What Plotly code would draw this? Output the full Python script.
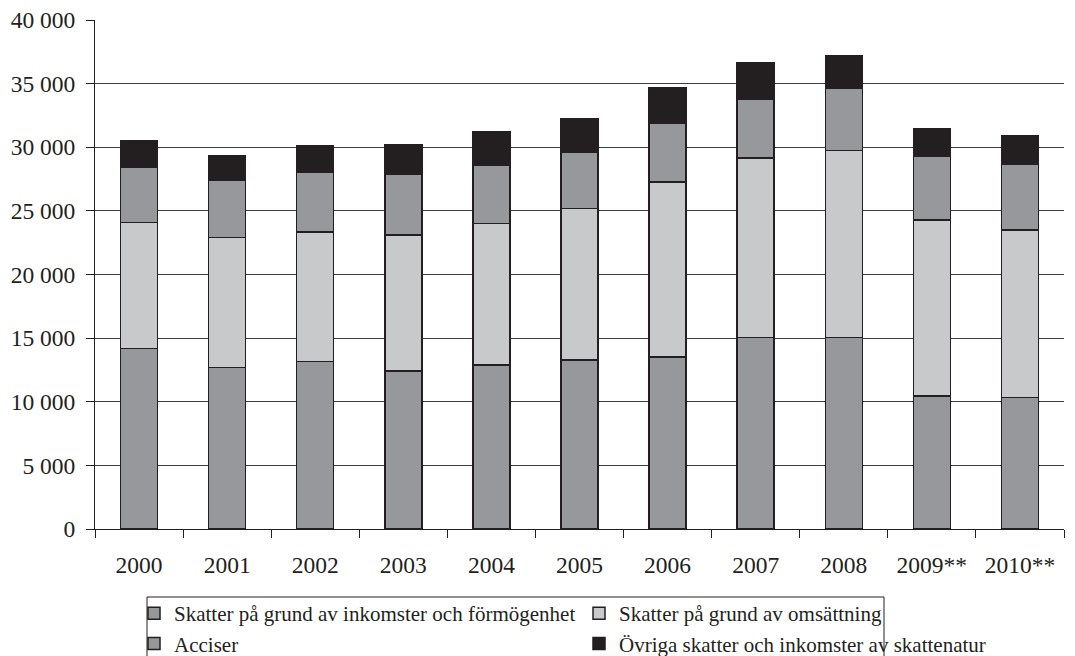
import plotly.graph_objects as go

years = ["2000", "2001", "2002", "2003", "2004", "2005", "2006", "2007", "2008", "2009**", "2010**"]
inkomst = [14200, 12700, 13150, 12400, 12900, 13300, 13500, 15050, 15050, 10450, 10320]
omsattning = [9900, 10200, 10200, 10700, 11100, 11900, 13750, 14100, 14700, 13830, 13180]
acciser = [4350, 4500, 4700, 4800, 4550, 4420, 4600, 4600, 4900, 4980, 5130]
ovriga = [2100, 1900, 2100, 2300, 2650, 2650, 2800, 2900, 2550, 2230, 2280]

names = [
    "Skatter på grund av inkomster och förmögenhet",
    "Skatter på grund av omsättning",
    "Acciser",
    "Övriga skatter och inkomster av skattenatur",
]
colors = ["#97989c", "#c8c9cb", "#97989c", "#231f20"]
series = [inkomst, omsattning, acciser, ovriga]

fig = go.Figure()
for name, col, vals in zip(names, colors, series):
    fig.add_trace(go.Bar(
        x=years, y=vals, name=name,
        marker=dict(color=col, line=dict(color="#231f20", width=1.5)),
    ))

FONT = "Liberation Serif, Times New Roman, serif"
OFF = 8  # page body margin
L, R, T, B = 87, 19, 12, 135
PW, PH = 1075 - L - R, 656 - T - B


def px(page_x):
    return (page_x - OFF - L) / PW


def py(page_y):
    return (T + PH - (page_y - OFF)) / PH


fig.update_layout(
    barmode="stack",
    bargap=0.58,
    width=1075, height=656,
    margin=dict(l=L, r=R, t=T, b=B, autoexpand=False),
    paper_bgcolor="white", plot_bgcolor="white",
    separators=", ",
    font=dict(family=FONT, size=23.5, color="#231f20"),
    showlegend=True,
    legend=dict(
        orientation="h",
        x=px(134), y=py(593), xanchor="left", yanchor="top",
        entrywidth=400, entrywidthmode="pixels",
        font=dict(family=FONT, size=21, color="#231f20"),
        itemwidth=30,
        traceorder="normal",
        bgcolor="rgba(0,0,0,0)",
    ),
    xaxis=dict(
        showgrid=False, ticks="outside", tickson="boundaries", ticklen=8,
        tickcolor="#231f20", showline=True, linecolor="#231f20", linewidth=1,
        ticklabelstandoff=15, automargin=False,
        tickfont=dict(family=FONT, size=23.5, color="#231f20"),
    ),
    yaxis=dict(
        range=[0, 40000], dtick=5000, tickformat=",d",
        showgrid=True, gridcolor="#404040", gridwidth=1,
        ticks="outside", ticklen=8, tickcolor="#231f20",
        showline=True, linecolor="#231f20", linewidth=1,
        zeroline=False, ticklabelstandoff=6, automargin=False,
        ticklabeloverflow="allow",
        tickfont=dict(family=FONT, size=23.5, color="#231f20"),
    ),
    shapes=[dict(
        type="rect", xref="paper", yref="paper",
        x0=px(147), x1=px(884),
        y0=py(720), y1=py(597),
        line=dict(color="#231f20", width=1), fillcolor="rgba(0,0,0,0)",
    )],
)

fig.write_html("out.html")
